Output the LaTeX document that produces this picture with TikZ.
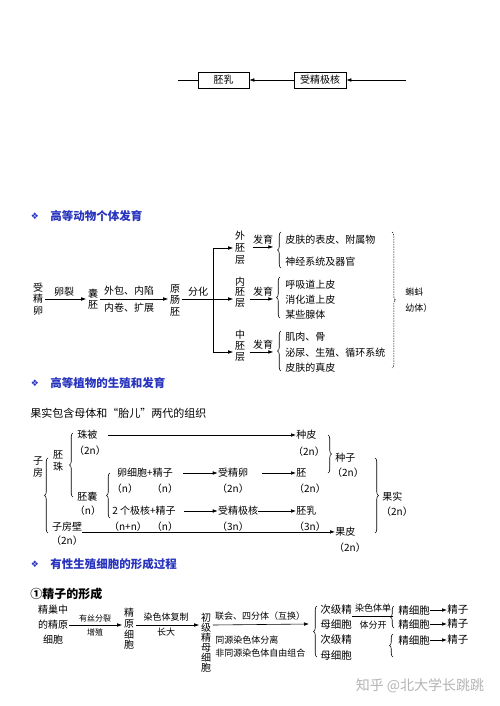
\documentclass[tikz,border=0pt]{standalone}
\usepackage{fontspec}
\setmainfont{Noto Sans CJK SC}
\newfontfamily\symf{DejaVu Sans}
\usetikzlibrary{arrows.meta,decorations.pathreplacing,calc}
\definecolor{hblue}{RGB}{40,52,190}
\definecolor{wm}{RGB}{180,180,180}
\begin{document}
\begin{tikzpicture}[x=1pt,y=-1pt, line width=0.6pt,
 every node/.style={inner sep=1pt, font=\fontsize{10}{12}\selectfont},
 arr/.style={-{Latex[length=5pt,width=3.6pt]}},
 vt/.style={align=center, inner sep=1.5pt, font=\fontsize{10}{11.5}\selectfont},
 lbl/.style={inner sep=0pt},
 sm/.style={inner sep=0pt, font=\fontsize{9}{10}\selectfont},
 tinyl/.style={inner sep=0pt, font=\fontsize{8}{9}\selectfont},
 hd/.style={inner sep=0pt, text=hblue, font=\fontsize{11.5}{13}\selectfont\bfseries},
 dia/.style={inner sep=0pt, text=hblue, font=\fontsize{9}{10}\selectfont},
 box/.style={draw, minimum height=16pt, inner sep=0pt},
 lb/.style={decorate, decoration={brace, amplitude=3.5pt}},
]
\path[use as bounding box, fill=white] (0,0) rectangle (500,706);

% ---------- top strip ----------
\node[box, minimum width=51pt] (peiru) at (223.5,80) {胚乳};
\node[box, minimum width=52pt] (sjjh) at (320,80) {受精极核};
\coordinate (tl) at (178,80);
\coordinate (tr) at (406,80);
\draw (tl) -- (peiru);
\draw[arr] (sjjh) -- (peiru);
\draw[arr] (tr) -- (sjjh);

% ---------- animal development ----------
\node[dia] (d1) at (35,216) {\symf ❖};
\node[hd, anchor=west] (h1) at (50,216) {高等动物个体发育};

\node[vt] (zjl) at (38,299) {受\\精\\卵};
\node[vt] (nang) at (93,299) {囊\\胚};
\node[vt] (ycp) at (175,300) {原\\肠\\胚};
\node[lbl] (lk) at (64,292) {卵裂};
\draw[arr] (zjl) -- (nang.west |- zjl);
\node[lbl] (wb) at (129,291) {外包、内陷};
\node[lbl] (nj) at (129,308) {内卷、扩展};
\draw[arr] (nang) -- (ycp.west |- nang);
\node[lbl] (fh) at (198,292) {分化};
\coordinate (split) at (213,299);
\draw (ycp.east |- split) -- (split);
\node[vt, font=\fontsize{10}{12}\selectfont] (wpc) at (240,248) {外\\胚\\层};
\node[vt, font=\fontsize{10}{10.5}\selectfont] (npc) at (240,292) {内\\胚\\层};
\node[vt, font=\fontsize{10}{11}\selectfont] (zpc) at (240,346) {中\\胚\\层};
\draw[arr] (split) |- (wpc.west);
\draw[arr] (split) -- (npc.west |- split);
\draw[arr] (split) |- ([yshift=-6pt]zpc.west);

\node[lbl] (fy1) at (263,240) {发育};
\draw[arr] ([yshift=-2pt]fy1.south west) -- ([yshift=-2pt]fy1.south east);
\node[lbl] (fy2) at (263,292) {发育};
\draw[arr] ([yshift=-2pt,xshift=-3pt]fy2.south west) -- ([yshift=-2pt]fy2.south east);
\node[lbl] (fy3) at (263,345) {发育};
\draw[arr] ([yshift=-2pt,xshift=-3pt]fy3.south west) -- ([yshift=-2pt]fy3.south east);

\draw[lb] (281,268) -- (281,232);
\node[lbl, anchor=west] (w1) at (285,240) {皮肤的表皮、附属物};
\node[lbl, anchor=west] (w2) at (285,262) {神经系统及器官};
\draw[lb] (280,318) -- (280,277);
\node[lbl, anchor=west] (n1) at (285,285) {呼吸道上皮};
\node[lbl, anchor=west] (n2) at (285,300) {消化道上皮};
\node[lbl, anchor=west] (n3) at (285,315) {某些腺体};
\draw[lb] (281,371) -- (281,331);
\node[lbl, anchor=west] (m1) at (285,337) {肌肉、骨};
\node[lbl, anchor=west] (m2) at (285,353) {泌尿、生殖、循环系统};
\node[lbl, anchor=west] (m3) at (285,368) {皮肤的真皮};

\draw[lb, line width=0.5pt, dash pattern=on 1.5pt off 1pt] (392,232) -- (392,368);
\node[lbl, anchor=west, font=\fontsize{9}{10}\selectfont] (kd1) at (405,292) {蝌蚪};
\node[lbl, anchor=west, font=\fontsize{9}{10}\selectfont] (kd2) at (405,308) {幼体）};

% ---------- plant ----------
\node[dia] (d2) at (35,383) {\symf ❖};
\node[hd, anchor=west] (h2) at (50,383) {高等植物的生殖和发育};
\node[anchor=west, inner sep=0pt, font=\fontsize{11}{13}\selectfont] (intro) at (30,413) {果实包含母体和“胎儿”两代的组织};

\node[vt] (zf) at (38,467) {子\\房};
\draw[lb] (48,533) -- (48,458);
\node[vt] (pz) at (58,461) {胚\\珠};
\draw[lb] (73,497) -- (73,433);
\node[lbl, anchor=west] (zb) at (77,435) {珠被};
\node[lbl] (zb2) at (90,451) {（2n）};
\node[lbl, anchor=west] (zp) at (296,435) {种皮};
\draw[arr] ([xshift=10pt]zb.east) -- (zp.west);
\node[lbl] (zp2) at (309,452) {（2n）};
\node[lbl, anchor=west] (pn) at (77,497) {胚囊};
\node[lbl] (pn2) at (88,511) {（n）};
\draw[lb] (110,518) -- (110,473);
\node[lbl] (lxb) at (145,473) {卵细胞+精子};
\node[lbl] (lxb1) at (125,489) {（n）};
\node[lbl] (lxb2) at (165,489) {（n）};
\node[lbl] (sjl) at (233,473) {受精卵};
\node[lbl] (sjl2) at (233,489) {（2n）};
\draw[arr] ([xshift=10pt]lxb.east) -- (sjl.west);
\node[lbl, anchor=west] (pei) at (296,473) {胚};
\node[lbl] (pei2) at (310,489) {（2n）};
\draw[arr] ([xshift=14pt]sjl.east) -- (pei.west);
\node[lbl] (jh) at (144,511) {2 个极核+精子};
\node[lbl] (jh1) at (128,527) {（n+n）};
\node[lbl] (jh2) at (165,527) {（n）};
\node[lbl] (sjjh2) at (238,511) {受精极核};
\node[lbl] (sjjh3) at (233,527) {（3n）};
\draw[arr] ([xshift=8pt]jh.east) -- (sjjh2.west);
\node[lbl, anchor=west] (pr) at (296,511) {胚乳};
\node[lbl] (pr2) at (310,527) {（3n）};
\draw[arr] (sjjh2.east) -- (pr.west);
\node[lbl] (zfb) at (67,527) {子房壁};
\node[lbl] (zfb2) at (67,541) {（2n）};
\node[lbl, anchor=west] (gp) at (335,532) {果皮};
\node[lbl] (gp2) at (350,548) {（2n）};
\draw[arr] (zfb.south east) -- (gp.west |- zfb.south east);
\draw[lb] (328,435) -- (328,473);
\node[lbl, anchor=west] (zz) at (335,458) {种子};
\node[lbl] (zz2) at (348,473) {（2n）};
\draw[lb] (375,458) -- (375,533);
\node[lbl, anchor=west] (gs) at (382,497) {果实};
\node[lbl] (gs2) at (397,512) {（2n）};

% ---------- sperm formation ----------
\node[dia] (d3) at (35,564) {\symf ❖};
\node[hd, anchor=west] (h3) at (50,564) {有性生殖细胞的形成过程};
\node[anchor=west, inner sep=0pt, font=\fontsize{12}{14}\selectfont\bfseries] (t1) at (30,594) {①精子的形成};

\node[align=center, inner sep=1pt, font=\fontsize{10}{15}\selectfont] (jc) at (53,625) {精巢中\\的精原\\细胞};
\node[vt, font=\fontsize{10}{10.7}\selectfont] (jyxb) at (129,629) {精\\原\\细\\胞};
\draw[arr] (jc) -- (jyxb.west |- jc);
\node[tinyl] (ys) at (95,618) {有丝分裂};
\node[tinyl] (zzh) at (95,632) {增殖};
\node[vt, font=\fontsize{10}{10}\selectfont] (cj) at (206,643) {初\\级\\精\\母\\细\\胞};
\draw[arr] (jyxb.east |- jc) -- (cj.west |- jc);
\node[sm] (rs) at (166,617) {染色体复制};
\node[sm] (zd) at (166,632) {长大};
\coordinate (b4) at (309,624);
\draw[arr] (cj.east |- jc) -- (b4);
\node[sm] (lh) at (260,616) {联会、四分体（互换）};
\node[sm, anchor=west] (ty) at (215,640) {同源染色体分离};
\node[sm, anchor=west] (fty) at (215,653) {非同源染色体自由组合};
\draw[lb] (317,657) -- (317,606);
\node[lbl, anchor=west, font=\fontsize{10.5}{12}\selectfont] (c1a) at (320,610) {次级精};
\node[lbl, anchor=west, font=\fontsize{10.5}{12}\selectfont] (c1b) at (320,624) {母细胞};
\node[lbl, anchor=west, font=\fontsize{10.5}{12}\selectfont] (c2a) at (320,640) {次级精};
\node[lbl, anchor=west, font=\fontsize{10.5}{12}\selectfont] (c2b) at (320,655) {母细胞};
\coordinate (sp) at (393,616);
\draw (c1a.east |- sp) -- (sp);
\node[sm] (rsd) at (373,608) {染色体单};
\node[sm] (tff) at (373,625) {体分开};
\draw[lb] (394,628) -- (394,606);
\node[lbl, anchor=west, font=\fontsize{10.5}{12}\selectfont] (x1) at (398,610) {精细胞};
\node[lbl, anchor=west, font=\fontsize{10.5}{12}\selectfont] (x2) at (398,624) {精细胞};
\node[lbl, anchor=west, font=\fontsize{10.5}{12}\selectfont] (j1) at (447,610) {精子};
\node[lbl, anchor=west, font=\fontsize{10.5}{12}\selectfont] (j2) at (447,624) {精子};
\draw[arr] (x1) -- (j1);
\draw[arr] (x2) -- (j2);
\draw[lb] (393,657) -- (393,634);
\node[lbl, anchor=west, font=\fontsize{10.5}{12}\selectfont] (x3) at (398,640) {精细胞};
\node[lbl, anchor=west, font=\fontsize{10.5}{12}\selectfont] (j3) at (447,640) {精子};
\draw[arr] (x3) -- (j3);

\node[text=wm, font=\fontsize{14}{16}\selectfont] (wmk) at (420,686) {知乎 @北大学长跳跳};
\end{tikzpicture}
\end{document}
